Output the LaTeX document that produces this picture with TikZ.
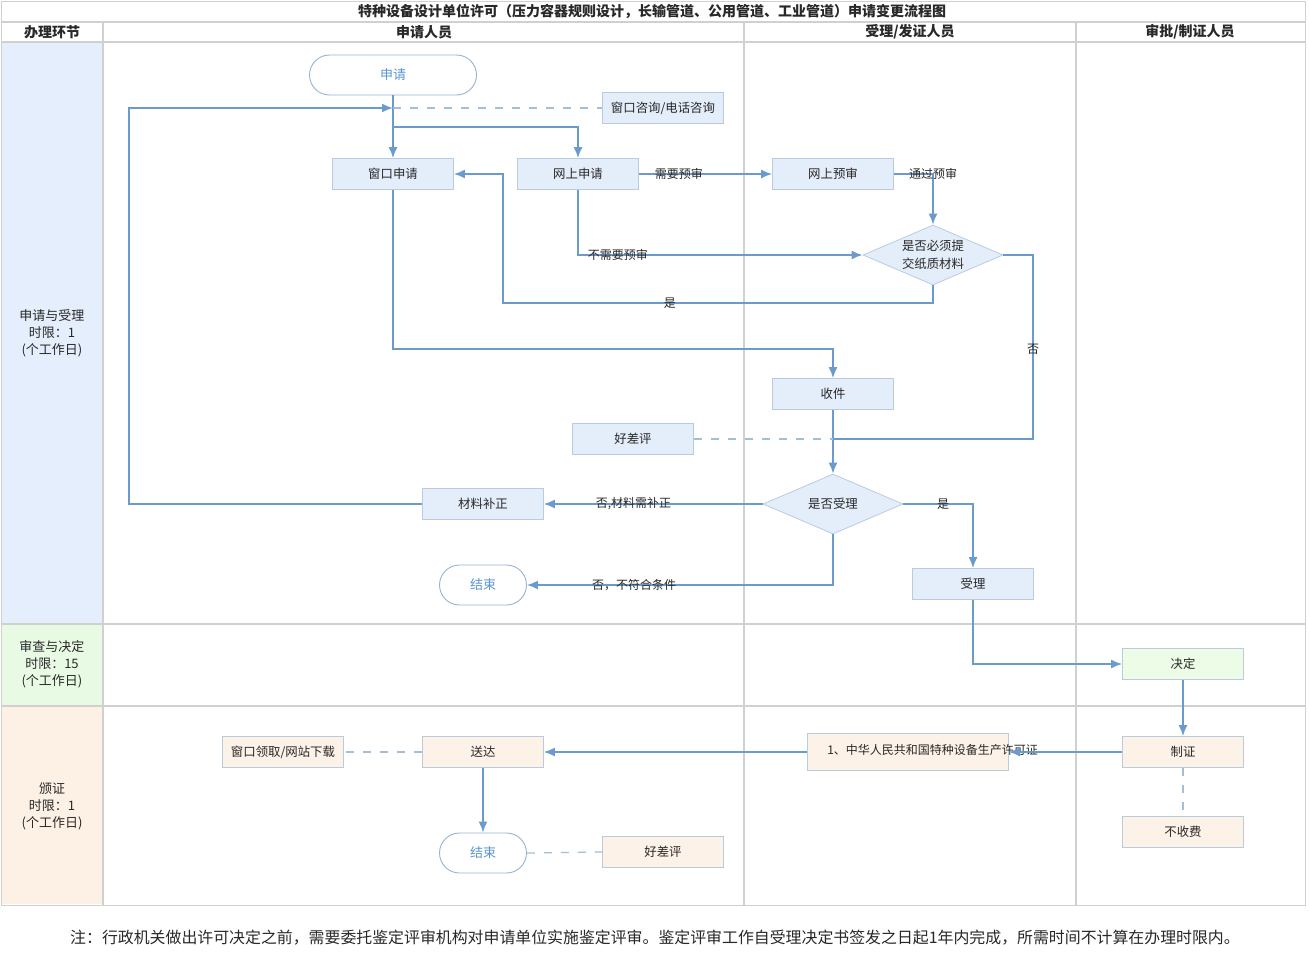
\documentclass[tikz,border=0pt]{standalone}
\usepackage{fontspec}
\setmainfont{Noto Sans CJK SC}
\usetikzlibrary{arrows.meta,shapes.geometric}
\definecolor{lineblue}{RGB}{106,155,204}
\definecolor{boxblue}{RGB}{228,237,250}
\definecolor{boxborder}{RGB}{184,204,224}
\definecolor{termborder}{RGB}{150,180,210}
\definecolor{termtext}{RGB}{91,150,210}
\definecolor{gridc}{RGB}{208,208,208}
\definecolor{lanebl}{RGB}{229,238,252}
\definecolor{lanegr}{RGB}{233,250,228}
\definecolor{laneor}{RGB}{253,241,229}
\definecolor{boxgr}{RGB}{236,252,230}
\definecolor{boxor}{RGB}{253,242,232}
\definecolor{dashcol}{RGB}{165,190,215}
\definecolor{txtc}{RGB}{40,40,40}
\tikzset{
  every node/.style={text=txtc, font=\fontsize{12}{14}\selectfont},
  procbox/.style={draw=boxborder, line width=0.8pt, fill=boxblue, minimum width=121pt, minimum height=31pt, inner sep=0pt, font=\fontsize{12.4}{14}\selectfont},
  grbox/.style={procbox, fill=boxgr},
  orbox/.style={procbox, fill=boxor},
  term/.style={draw=termborder, line width=0.9pt, fill=white, rounded corners=20pt, minimum height=40pt, inner sep=0pt, text=termtext, font=\fontsize{13}{15}\selectfont},
  decide/.style={diamond, draw=boxborder, line width=0.8pt, fill=boxblue, shape aspect=2.33, minimum width=140pt, minimum height=60pt, inner sep=0pt, align=center, font=\fontsize{12.4}{18}\selectfont},
  conn/.style={draw=lineblue, line width=1.7pt},
  arr/.style={conn, -{Latex[length=11pt,width=9pt]}},
  dsh/.style={draw=dashcol, line width=1.3pt, dash pattern=on 8pt off 9pt},
  lbl/.style={inner sep=0pt, font=\fontsize{12}{14}\selectfont},
  lanelbl/.style={align=center, font=\fontsize{13}{17}\selectfont},
  hdr/.style={font=\fontsize{14}{16}\selectfont\bfseries}
}
\begin{document}
\begin{tikzpicture}[x=1pt,y=-1pt]
\useasboundingbox (0,0) rectangle (1309,961);
\fill[white] (0,0) rectangle (1309,961);
% lane fills
\fill[lanebl] (2,43) rectangle (102,623);
\fill[lanegr] (2,625) rectangle (102,705);
\fill[laneor] (2,707) rectangle (102,904);
% grid
\draw[gridc, line width=1pt] (1,1) rectangle (1305,905);
\draw[gridc, line width=1.2pt] (1,22) -- (1305,22);
\draw[gridc, line width=1.5pt] (1,42) -- (1305,42);
\draw[gridc, line width=2pt] (1,624) -- (1305,624);
\draw[gridc, line width=2pt] (1,706) -- (1305,706);
\foreach \x in {103,744,1076} \draw[gridc, line width=1.5pt] (\x,22) -- (\x,905);
% headers
\node[hdr] (title) at (652,11) {特种设备设计单位许可（压力容器规则设计，长输管道、公用管道、工业管道）申请变更流程图};
\node[hdr] (h1) at (52,32) {办理环节};
\node[hdr] (h2) at (424,32) {申请人员};
\node[hdr] (h3) at (910,32) {受理/发证人员};
\node[hdr] (h4) at (1190,32) {审批/制证人员};
\node[lanelbl] (l1) at (52,333) {申请与受理\\时限：1\\(个工作日)};
\node[lanelbl] (l2) at (52,664) {审查与决定\\时限：15\\(个工作日)};
\node[lanelbl] (l3) at (52,806) {颁证\\时限：1\\(个工作日)};
% nodes
\node[term, minimum width=167pt] (sq) at (393,75) {申请};
\node[procbox] (zx) at (663,108) {窗口咨询/电话咨询};
\node[procbox] (ck) at (393,174) {窗口申请};
\node[procbox] (ws) at (578,174) {网上申请};
\node[procbox] (wy) at (833,174) {网上预审};
\node[decide] (d1) at (933,255) {是否必须提\\交纸质材料};
\node[procbox] (sj) at (833,394) {收件};
\node[procbox] (hp1) at (633,439) {好差评};
\node[decide] (d2) at (833,504) {是否受理};
\node[procbox] (bz) at (483,504) {材料补正};
\node[term, minimum width=87pt] (js1) at (483,585) {结束};
\node[procbox] (sl) at (973,584) {受理};
\node[grbox] (jd) at (1183,664) {决定};
\node[orbox] (zz) at (1183,752) {制证};
\node[orbox] (bsf) at (1183,832) {不收费};
\node[orbox, minimum width=201pt, minimum height=37pt] (xk) at (908,752) {};
\node[orbox] (sd) at (483,752) {送达};
\node[orbox] (lq) at (283,752) {窗口领取/网站下载};
\node[term, minimum width=87pt] (js2) at (483,853) {结束};
\node[orbox] (hp2) at (663,852) {好差评};
% connectors
\coordinate (jin) at (393,108);
\coordinate (j1) at (393,127);
\coordinate (lp) at (129,108);
\coordinate (m1) at (833,439);
\draw[arr] (sq.south) -- (ck.north);
\draw[arr] (j1) -| (ws.north);
\draw[arr] (bz.west) -| (lp) -- (jin);
\draw[dsh] (jin) -- (zx.west);
\draw[arr] (ws.east) -- node[lbl,pos=0.3]{需要预审} (wy.west);
\draw[arr] (wy.east) -| node[lbl,pos=0.5]{通过预审} (d1.north);
\draw[arr] (ws.south) |- node[lbl,pos=0.57]{不需要预审} (d1.west);
\draw[arr] (d1.south) |- node[lbl,pos=0.806]{是} (503,303) |- (ck.east);
\draw[conn] (d1.east) -| node[lbl,pos=0.755]{否} (1033,439) -- (m1);
\draw[arr] (ck.south) -- (393,349) -| (sj.north);
\draw[arr] (sj.south) -- (d2.north);
\draw[dsh] (hp1.east) -- (m1);
\draw[arr] (d2.west) -- node[lbl,pos=0.59]{否,材料需补正} (bz.east);
\draw[arr] (d2.south) |- node[lbl,pos=0.825]{否，不符合条件} (js1.east);
\draw[arr] (d2.east) -| node[lbl,pos=0.285]{是} (sl.north);
\draw[arr] (sl.south) |- (jd.west);
\draw[arr] (jd.south) -- (zz.north);
\draw[arr] (xk.west) -- (sd.east);
\draw[dsh] (sd.west) -- (lq.east);
\draw[arr] (sd.south) -- (js2.north);
\draw[dsh] (js2.east) -- (hp2.west);
\draw[dsh] (zz.south) -- (bsf.north);
\node[lbl, anchor=west] (xkt) at ([xshift=20pt,yshift=2pt]xk.west) {1、中华人民共和国特种设备生产许可证};
\draw[arr] (zz.west) -- (xk.east);
% footer
\node[font=\fontsize{15.9}{18}\selectfont] (note) at (655,938) {注：行政机关做出许可决定之前，需要委托鉴定评审机构对申请单位实施鉴定评审。鉴定评审工作自受理决定书签发之日起1年内完成，所需时间不计算在办理时限内。};
\end{tikzpicture}
\end{document}
